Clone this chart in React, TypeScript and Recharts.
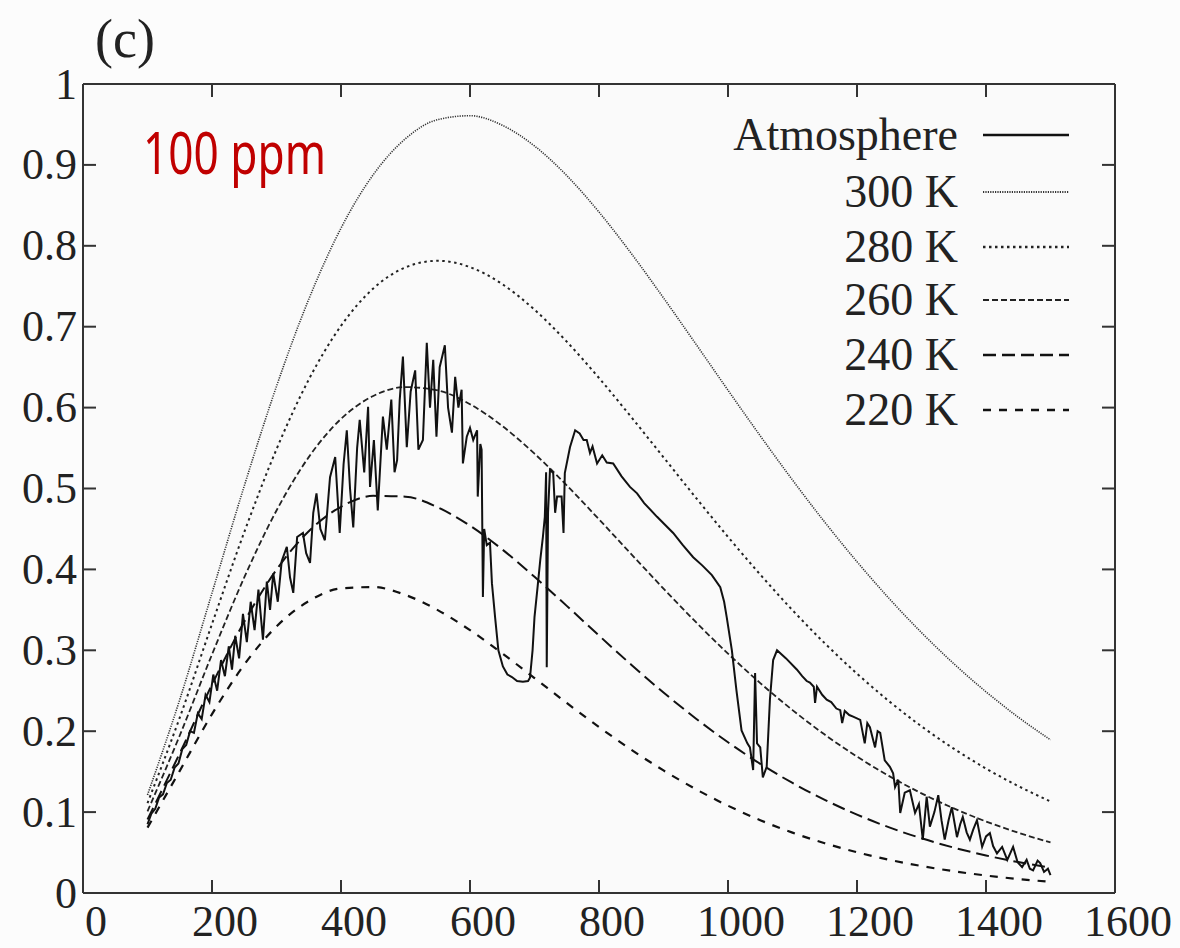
import { Line, LineChart, XAxis, YAxis, CartesianGrid } from "recharts";

// Wavenumber grid (cm^-1) for the blackbody reference curves.
const waveNumbers = [
  100, 150, 200, 250, 300, 350, 400, 450, 500, 550, 600, 650, 700, 750, 800,
  850, 900, 950, 1000, 1050, 1100, 1150, 1200, 1250, 1300, 1350, 1400, 1450, 1500,
];

const t300 = [
  0.1212, 0.2391, 0.3708, 0.5031, 0.6263, 0.7339, 0.8218, 0.8879, 0.9324, 0.956,
  0.9608, 0.949, 0.9234, 0.8868, 0.8417, 0.7906, 0.7356, 0.6788, 0.6215, 0.5651,
  0.5105, 0.4584, 0.4095, 0.3639, 0.3219, 0.2835, 0.2487, 0.2173, 0.1893,
];
const t280 = [
  0.1111, 0.2168, 0.3325, 0.446, 0.5485, 0.6346, 0.7011, 0.7472, 0.7734, 0.7815,
  0.7737, 0.7526, 0.721, 0.6815, 0.6366, 0.5883, 0.5386, 0.4888, 0.4402, 0.3936,
  0.3496, 0.3087, 0.2711, 0.2369, 0.206, 0.1784, 0.1539, 0.1322, 0.1132,
];
const t260 = [
  0.1009, 0.1947, 0.2948, 0.39, 0.4728, 0.5388, 0.586, 0.6144, 0.6254, 0.6212,
  0.6042, 0.5773, 0.5431, 0.5039, 0.4619, 0.4189, 0.3763, 0.335, 0.2959, 0.2595,
  0.2261, 0.1958, 0.1686, 0.1445, 0.1232, 0.1046, 0.0884, 0.0745, 0.0625,
];
const t240 = [
  0.0908, 0.1727, 0.2576, 0.3353, 0.3996, 0.4472, 0.4774, 0.4909, 0.4899, 0.4767,
  0.454, 0.4247, 0.3909, 0.3549, 0.3182, 0.2822, 0.2478, 0.2158, 0.1863, 0.1597,
  0.136, 0.1151, 0.0969, 0.0811, 0.0676, 0.0561, 0.0464, 0.0382, 0.0313,
];
const t220 = [
  0.0808, 0.151, 0.2211, 0.2823, 0.3295, 0.3608, 0.3765, 0.3782, 0.3684, 0.3497,
  0.3249, 0.2962, 0.2657, 0.2349, 0.2052, 0.1772, 0.1515, 0.1284, 0.1079, 0.09,
  0.0746, 0.0615, 0.0504, 0.041, 0.0333, 0.0269, 0.0216, 0.0173, 0.0138,
];

// Atmosphere spectrum.
const atmWave = [
  100, 106, 112, 118, 124, 130, 136, 142, 148, 154, 160, 166, 172, 178, 184, 190,
  196, 202, 208, 214, 220, 226, 231, 236, 242, 248, 254, 260, 266, 272, 279, 285,
  290, 295, 302, 308, 316, 321, 326, 332, 341, 346, 352, 357, 362, 368, 375, 383,
  391, 398, 404, 409, 414, 419, 425, 429, 436, 442, 445, 451, 457, 465, 471, 478,
  483, 487, 491, 496, 502, 508, 515, 520, 527, 533, 538, 543, 548, 553, 561, 566,
  572, 577, 582, 587, 589, 595, 600, 605, 611, 612, 616, 618, 620, 622, 626, 631,
  634, 639, 644, 651, 658, 665, 673, 682, 690, 693, 697, 700, 705, 709, 713, 716,
  718, 719, 721, 724, 729, 732, 735, 742, 745, 747, 755, 763, 770, 776, 781, 786,
  790, 797, 805, 812, 822, 835, 848, 859, 870, 890, 915, 930, 946, 960, 975, 988,
  994, 998, 1006, 1013, 1021, 1030, 1034, 1039, 1042, 1045, 1050, 1054, 1060, 1065,
  1070, 1076, 1090, 1107, 1115, 1122, 1127, 1133, 1135, 1138, 1146, 1153, 1160,
  1168, 1174, 1177, 1181, 1188, 1194, 1205, 1212, 1216, 1220, 1228, 1232, 1236,
  1243, 1251, 1256, 1259, 1264, 1267, 1274, 1282, 1290, 1296, 1302, 1308, 1313,
  1320, 1326, 1331, 1336, 1342, 1347, 1355, 1360, 1364, 1370, 1375, 1380, 1386,
  1394, 1400, 1406, 1411, 1417, 1425, 1433, 1442, 1449, 1456, 1463, 1468, 1473,
  1480, 1484, 1490, 1496, 1500,
];
const atmValue = [
  0.085, 0.098, 0.104, 0.118, 0.122, 0.136, 0.14, 0.155, 0.16, 0.178, 0.183, 0.2,
  0.198, 0.222, 0.215, 0.245, 0.236, 0.27, 0.25, 0.288, 0.268, 0.305, 0.276, 0.318,
  0.29, 0.345, 0.31, 0.36, 0.325, 0.375, 0.313, 0.385, 0.35, 0.395, 0.36, 0.41,
  0.428, 0.39, 0.371, 0.44, 0.445, 0.42, 0.408, 0.47, 0.494, 0.45, 0.436, 0.514,
  0.539, 0.445, 0.53, 0.572, 0.5, 0.452, 0.55, 0.585, 0.52, 0.601, 0.502, 0.56,
  0.473, 0.589, 0.548, 0.61, 0.52, 0.535, 0.609, 0.663, 0.551, 0.62, 0.646, 0.548,
  0.56, 0.68, 0.6, 0.659, 0.564, 0.65, 0.677, 0.6, 0.569, 0.638, 0.6, 0.622, 0.531,
  0.564, 0.575, 0.56, 0.572, 0.49, 0.555, 0.548, 0.366, 0.45, 0.43, 0.433, 0.383,
  0.34, 0.3, 0.28, 0.27, 0.267, 0.262, 0.261, 0.262, 0.266, 0.3, 0.341, 0.38, 0.412,
  0.44, 0.465, 0.52, 0.279, 0.47, 0.523, 0.519, 0.47, 0.49, 0.49, 0.445, 0.519,
  0.551, 0.572, 0.568, 0.56, 0.56, 0.544, 0.552, 0.531, 0.541, 0.532, 0.531, 0.515,
  0.502, 0.494, 0.482, 0.465, 0.445, 0.43, 0.415, 0.405, 0.393, 0.378, 0.36, 0.341,
  0.3, 0.251, 0.201, 0.185, 0.18, 0.152, 0.272, 0.185, 0.18, 0.143, 0.156, 0.239,
  0.288, 0.3, 0.29, 0.276, 0.268, 0.262, 0.26, 0.255, 0.235, 0.255, 0.245, 0.239,
  0.236, 0.228, 0.226, 0.21, 0.225, 0.22, 0.218, 0.214, 0.185, 0.21, 0.205, 0.18,
  0.2, 0.198, 0.164, 0.156, 0.148, 0.131, 0.14, 0.099, 0.124, 0.127, 0.099, 0.11,
  0.066, 0.119, 0.082, 0.1, 0.121, 0.09, 0.066, 0.09, 0.106, 0.069, 0.085, 0.094,
  0.075, 0.066, 0.078, 0.09, 0.057, 0.07, 0.074, 0.058, 0.049, 0.057, 0.041, 0.057,
  0.038, 0.032, 0.041, 0.03, 0.028, 0.04, 0.037, 0.026, 0.03, 0.022,
];

const xTicks = [0, 200, 400, 600, 800, 1000, 1200, 1400, 1600];
const yTicks = [0, 0.1, 0.2, 0.3, 0.4, 0.5, 0.6, 0.7, 0.8, 0.9, 1];

const planckRows = waveNumbers.map((w, i) => ({
  w,
  t300: t300[i],
  t280: t280[i],
  t260: t260[i],
  t240: t240[i],
  t220: t220[i],
}));
const atmRows = atmWave.map((w, i) => ({ w, atm: atmValue[i] }));

const SERIF = "'Liberation Serif', 'Times New Roman', serif";
const INK = "#111";
const AXIS = "#333";

const SERIES = [
  { key: "atm", label: "Atmosphere", dash: undefined, width: 2, color: INK },
  { key: "t300", label: "300 K", dash: "1.2 1.2", width: 1.6, color: "#333" },
  { key: "t280", label: "280 K", dash: "2.5 3.5", width: 2, color: "#222" },
  { key: "t260", label: "260 K", dash: "6 3", width: 1.8, color: "#222" },
  { key: "t240", label: "240 K", dash: "13 6", width: 2, color: "#111" },
  { key: "t220", label: "220 K", dash: "8 8", width: 2.2, color: "#111" },
];

const W = 1180;
const H = 948;
// plot box: left 83, right 1115, top 84, bottom 893 (axes take 1px each)
const MARGIN = { top: 83, right: 64, bottom: 54, left: 82 };
const TICK = 13;
const FONT = 44;

function BottomTick(props: any) {
  const { x, y, payload } = props;
  return (
    <g>
      <line x1={x} x2={x} y1={y} y2={y - TICK} stroke={AXIS} strokeWidth={2} />
      <text x={x + 13} y={y + 43} textAnchor="middle" fontFamily={SERIF} fontSize={FONT} fill="#222">
        {payload.value}
      </text>
    </g>
  );
}

function TopTick(props: any) {
  const { x, y } = props;
  return <line x1={x} x2={x} y1={y} y2={y + TICK} stroke={AXIS} strokeWidth={2} />;
}

function LeftTick(props: any) {
  const { x, y, payload } = props;
  return (
    <g>
      <line x1={x} x2={x + TICK} y1={y} y2={y} stroke={AXIS} strokeWidth={2} />
      <text x={x - 6} y={y + 14.5} textAnchor="end" fontFamily={SERIF} fontSize={FONT} fill="#222">
        {String(payload.value)}
      </text>
    </g>
  );
}

function RightTick(props: any) {
  const { x, y } = props;
  return <line x1={x} x2={x - TICK} y1={y} y2={y} stroke={AXIS} strokeWidth={2} />;
}

function Overlay() {
  const baselines = [150, 207, 262, 315, 370, 425];
  return (
    <svg width={W} height={H} style={{ position: "absolute", left: 0, top: 0, pointerEvents: "none" }}>
      <text x={95} y={57} fontFamily={SERIF} fontSize={54} fill="#222">
        (c)
      </text>
      <text
        x={143}
        y={174}
        fontFamily="'Noto Sans', sans-serif"
        fontSize={58}
        fill="#c00000"
        textLength={183}
        lengthAdjust="spacingAndGlyphs"
      >
        100 ppm
      </text>
      {SERIES.map((s, i) => (
        <g key={s.key}>
          <text x={958} y={baselines[i]} textAnchor="end" fontFamily={SERIF} fontSize={46} fill="#222">
            {s.label}
          </text>
          <line
            x1={983}
            x2={1069}
            y1={baselines[i] - 15}
            y2={baselines[i] - 15}
            stroke={s.color}
            strokeWidth={s.width + 0.4}
            strokeDasharray={s.dash}
          />
        </g>
      ))}
    </svg>
  );
}

export default function App() {
  return (
    <div style={{ position: "absolute", left: 0, top: 0, width: W, height: H, background: "#fcfcfc" }}>
      <LineChart width={W} height={H} data={planckRows} margin={MARGIN}>
        <CartesianGrid horizontal={false} vertical={false} fill="#fafafa" />
        <XAxis
          dataKey="w"
          type="number"
          domain={[0, 1600]}
          ticks={xTicks}
          allowDataOverflow
          height={1}
          tickSize={0}
          tickMargin={0}
          tickLine={false}
          axisLine={{ stroke: AXIS, strokeWidth: 2 }}
          tick={BottomTick}
          interval={0}
        />
        <XAxis
          xAxisId="top"
          orientation="top"
          dataKey="w"
          type="number"
          domain={[0, 1600]}
          ticks={xTicks}
          allowDataOverflow
          height={1}
          tickSize={0}
          tickMargin={0}
          tickLine={false}
          axisLine={{ stroke: AXIS, strokeWidth: 2 }}
          tick={TopTick}
          interval={0}
        />
        <YAxis
          type="number"
          domain={[0, 1]}
          ticks={yTicks}
          allowDataOverflow
          width={1}
          tickSize={0}
          tickMargin={0}
          tickLine={false}
          axisLine={{ stroke: AXIS, strokeWidth: 2 }}
          tick={LeftTick}
          interval={0}
        />
        <YAxis
          yAxisId="right"
          orientation="right"
          type="number"
          domain={[0, 1]}
          ticks={yTicks}
          allowDataOverflow
          width={1}
          tickSize={0}
          tickMargin={0}
          tickLine={false}
          axisLine={{ stroke: AXIS, strokeWidth: 2 }}
          tick={RightTick}
          interval={0}
        />
        {SERIES.slice(1).map((s) => (
          <Line
            key={s.key}
            type="monotone"
            dataKey={s.key}
            stroke={s.color}
            strokeWidth={s.width}
            strokeDasharray={s.dash}
            dot={false}
            activeDot={false}
            isAnimationActive={false}
          />
        ))}
        <Line
          data={atmRows}
          type="linear"
          dataKey="atm"
          stroke={INK}
          strokeWidth={2}
          dot={false}
          activeDot={false}
          isAnimationActive={false}
        />
      </LineChart>
      <Overlay />
    </div>
  );
}
